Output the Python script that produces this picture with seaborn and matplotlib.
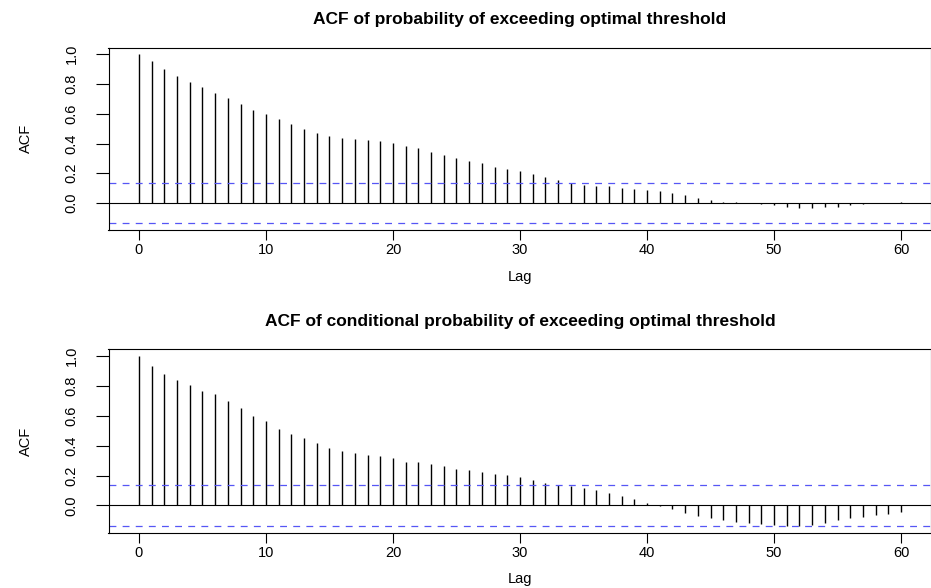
import numpy as np
import pandas as pd
import matplotlib
matplotlib.use("Agg")
import matplotlib.pyplot as plt
import seaborn as sns

lags = list(range(61))
acf_prob = [1.0, 0.953, 0.904, 0.857, 0.815, 0.777, 0.741, 0.708, 0.665, 0.627,
            0.598, 0.563, 0.531, 0.496, 0.471, 0.451, 0.440, 0.431, 0.424, 0.417,
            0.402, 0.386, 0.368, 0.344, 0.321, 0.301, 0.283, 0.266, 0.243, 0.226,
            0.215, 0.195, 0.173, 0.152, 0.133, 0.120, 0.115, 0.114, 0.104, 0.091,
            0.085, 0.080, 0.068, 0.054, 0.037, 0.020, 0.009, 0.004, 0.001, -0.004,
            -0.016, -0.025, -0.034, -0.035, -0.030, -0.027, -0.015, -0.008, -0.002, 0.002,
            0.009]
acf_cond = [1.0, 0.935, 0.883, 0.843, 0.804, 0.764, 0.744, 0.701, 0.649, 0.598,
            0.564, 0.512, 0.481, 0.454, 0.418, 0.387, 0.366, 0.348, 0.337, 0.328,
            0.315, 0.294, 0.292, 0.274, 0.261, 0.245, 0.240, 0.225, 0.213, 0.201,
            0.191, 0.169, 0.153, 0.139, 0.133, 0.119, 0.106, 0.083, 0.060, 0.040,
            0.016, -0.004, -0.025, -0.049, -0.072, -0.085, -0.099, -0.112, -0.121, -0.126,
            -0.133, -0.135, -0.135, -0.130, -0.119, -0.099, -0.085, -0.076, -0.065, -0.058,
            -0.047]
ci_bound = 0.136
titles = ["ACF of probability of exceeding optimal threshold",
          "ACF of conditional probability of exceeding optimal threshold"]
x_ticks = [0, 10, 20, 30, 40, 50, 60]
y_ticks = [0.0, 0.2, 0.4, 0.6, 0.8, 1.0]

sns.set_theme(style="white")
plt.rcParams['font.family'] = ['Liberation Sans', 'DejaVu Sans']
plt.rcParams['text.color'] = 'black'
plt.rcParams['axes.labelcolor'] = 'black'
plt.rcParams['xtick.color'] = 'black'
plt.rcParams['ytick.color'] = 'black'

W, H = 931, 588
fig = plt.figure(figsize=(W / 100, H / 100), dpi=100)

def px_axes(left, top, right, bottom):
    return fig.add_axes([left / W, 1 - bottom / H, (right - left) / W, (bottom - top) / H])

axes = [px_axes(108.5, 47.5, 931.5, 230.0), px_axes(108.5, 349.3, 931.5, 532.5)]
series = [acf_prob, acf_cond]

for ax, vals, title in zip(axes, series, titles):
    df = pd.DataFrame({"Lag": lags, "ACF": vals})
    ax.vlines(df["Lag"], 0, df["ACF"], color="black", lw=1.0)
    sns.lineplot(x=[-5, 70], y=[0, 0], ax=ax, color="black", lw=0.8)
    for b in (ci_bound, -ci_bound):
        ax.axhline(b, color="#5656f5", lw=0.9, dashes=(5.5, 5.0))
    ymin = min(min(vals), -ci_bound)
    ymax = max(max(vals), ci_bound)
    ext = 0.04 * (ymax - ymin)
    ax.set_xlim(-2.4, 62.4)
    ax.set_ylim(ymin - ext, ymax + ext)
    ax.set_xticks(x_ticks)
    ax.set_xticklabels([str(t) for t in x_ticks], fontsize=10.5, color="black")
    ax.set_yticks(y_ticks)
    ax.set_yticklabels([f"{t:.1f}" for t in y_ticks], fontsize=10.5,
                       rotation=90, va="center", color="black")
    ax.tick_params(axis="x", length=7, width=0.8, pad=2.5, color="black", bottom=True)
    ax.tick_params(axis="y", length=9.5, width=0.8, pad=12, color="black", left=True)
    for s in ax.spines.values():
        s.set_color("black")
        s.set_linewidth(0.8)
    ax.set_xlabel("Lag", fontsize=10.5, color="black")
    ax.set_ylabel("ACF", fontsize=10.5, color="black")
    ax.xaxis.set_label_coords(0.5, -0.218)
    ax.yaxis.set_label_coords(-0.092, 0.5)
    ax.set_title(title, fontsize=12.5, fontweight="bold", pad=17, color="black")

fig.savefig("out.png", dpi=100)
